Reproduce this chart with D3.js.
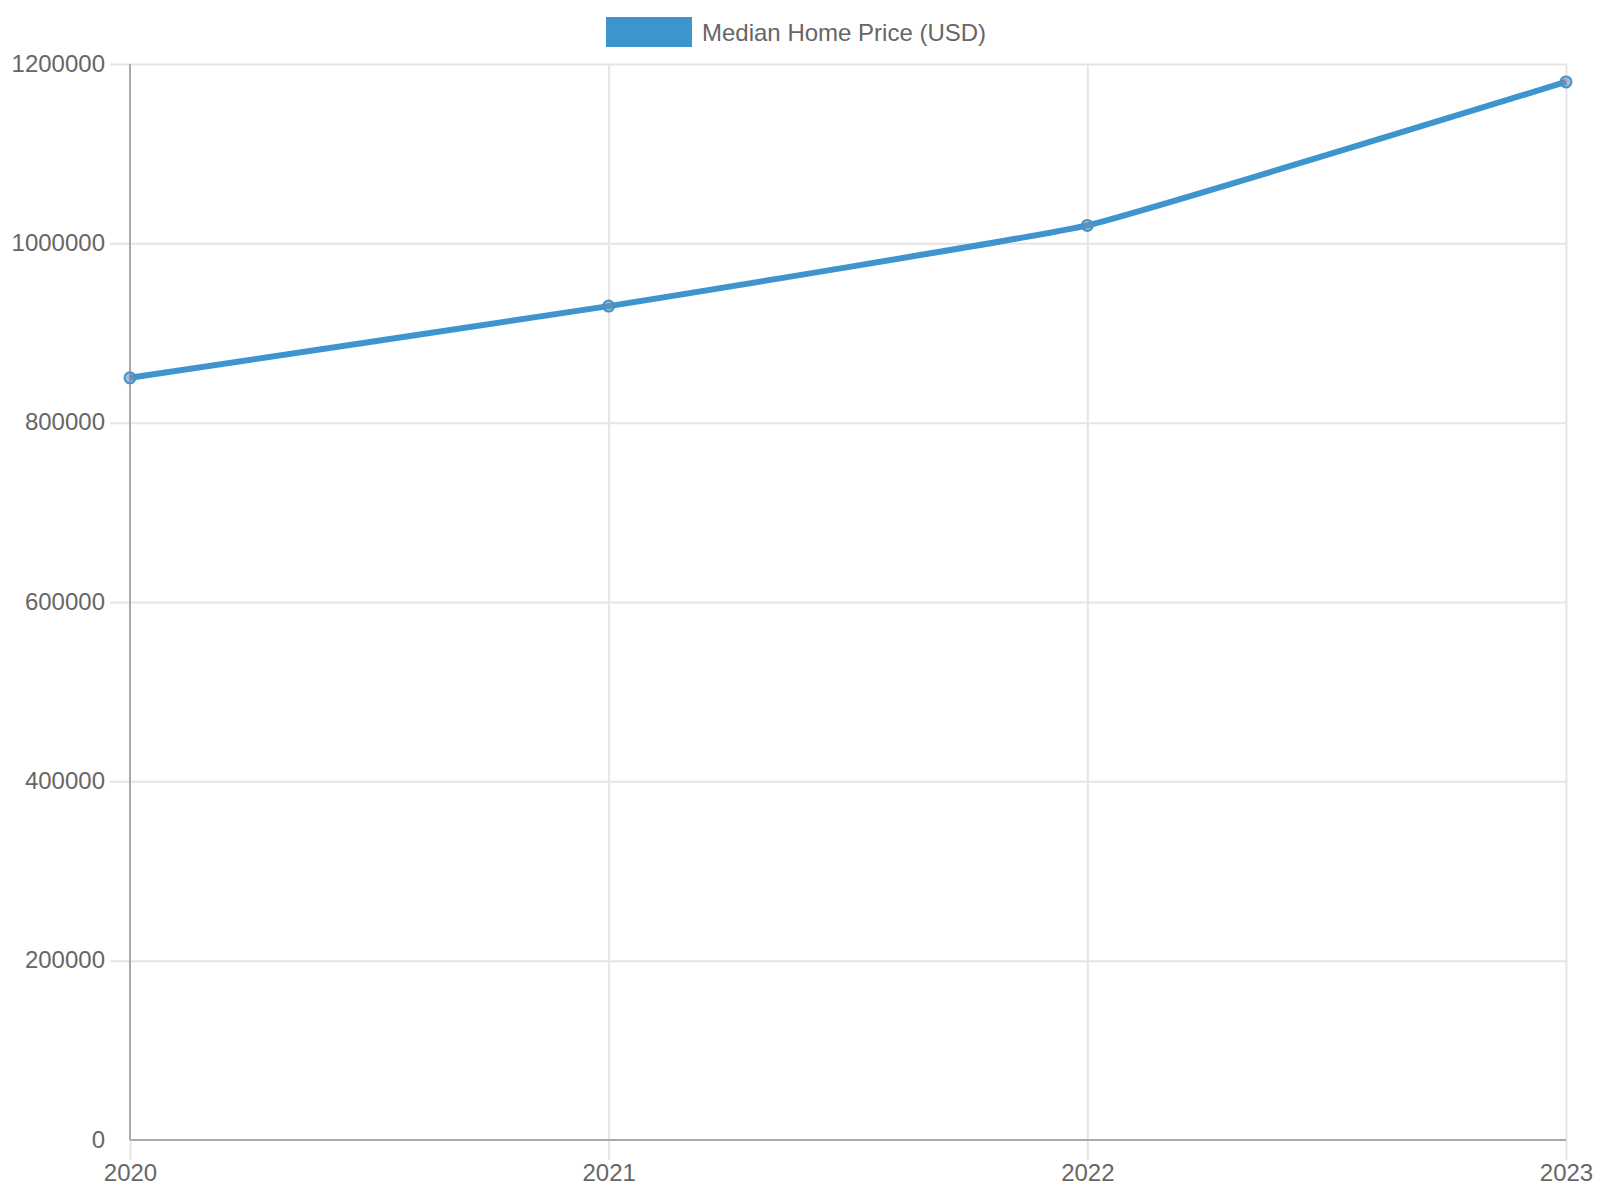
<!DOCTYPE html>
<html>
<head>
<meta charset="utf-8">
<script src="https://cdn.jsdelivr.net/npm/d3@7"></script>
<style>
  body { margin: 0; background: #fff; }
  text { font-family: "Liberation Sans", Arial, sans-serif; fill: #666; }
</style>
</head>
<body>
<div id="chart"></div>
<script>
// data
var years = ["2020", "2021", "2022", "2023"];
var prices = [850000, 930000, 1020000, 1180000];
var yTicks = [0, 200000, 400000, 600000, 800000, 1000000, 1200000];
var seriesName = "Median Home Price (USD)";

var width = 1600, height = 1200;
var margin = {top: 64, right: 34, bottom: 60, left: 130};
var lineColor = "#3e95cd";

var svg = d3.select("#chart")
  .append("svg")
    .attr("width", width)
    .attr("height", height);

var plotW = width - margin.left - margin.right,
    plotH = height - margin.top - margin.bottom;

var g = svg.append("g")
  .attr("transform", "translate(" + margin.left + "," + margin.top + ")");

var x = d3.scalePoint()
  .domain(years)
  .range([0, plotW]);

var y = d3.scaleLinear()
  .domain([0, 1200000])
  .range([plotH, 0]);

// horizontal grid + y ticks
var yAxis = g.append("g")
  .call(d3.axisLeft(y).tickValues(yTicks).tickSize(20).tickPadding(2).tickFormat(d3.format("d")));
yAxis.select(".domain").remove();
yAxis.selectAll(".tick line")
  .attr("x2", function(d) { return d === 0 ? -20 : plotW; })
  .attr("x1", -20)
  .attr("stroke", "#e5e5e5")
  .attr("stroke-width", 2);
yAxis.selectAll(".tick text")
  .attr("x", -25)
  .attr("dy", "0.3em")
  .style("font-size", "24px")
  .style("font-family", "Liberation Sans, Arial, sans-serif")
  .attr("fill", "#666");

// vertical grid + x ticks
var xAxis = g.append("g")
  .attr("transform", "translate(0," + plotH + ")")
  .call(d3.axisBottom(x).tickSize(20).tickPadding(4));
xAxis.select(".domain").remove();
xAxis.selectAll(".tick line")
  .attr("y1", function(d, i) { return i === 0 ? 0 : -plotH; })
  .attr("y2", 20)
  .attr("stroke", "#e5e5e5")
  .attr("stroke-width", 2);
xAxis.selectAll(".tick text")
  .style("font-size", "24px")
  .style("font-family", "Liberation Sans, Arial, sans-serif")
  .attr("fill", "#666");

// axis lines
g.append("line")
  .attr("x1", 0).attr("x2", 0)
  .attr("y1", 0).attr("y2", plotH)
  .attr("stroke", "#aaa")
  .attr("stroke-width", 2);
g.append("line")
  .attr("x1", 0).attr("x2", plotW)
  .attr("y1", plotH).attr("y2", plotH)
  .attr("stroke", "#aaa")
  .attr("stroke-width", 2);

// the line, slight smoothing like a low tension spline
var line = d3.line()
  .x(function(d, i) { return x(years[i]); })
  .y(function(d) { return y(d); })
  .curve(d3.curveCardinal.tension(0.7));

g.append("path")
  .datum(prices)
  .attr("d", line)
  .attr("fill", "none")
  .attr("stroke", lineColor)
  .attr("stroke-width", 6)
  .attr("stroke-linejoin", "round");

g.selectAll(".pt")
  .data(prices)
  .enter()
  .append("circle")
  .attr("class", "pt")
  .attr("cx", function(d, i) { return x(years[i]); })
  .attr("cy", function(d) { return y(d); })
  .attr("r", 5.5)
  .attr("fill", "rgba(120,140,170,0.6)")
  .attr("stroke", lineColor)
  .attr("stroke-width", 2);

// legend
var legend = svg.append("g").attr("transform", "translate(606,17)");
legend.append("rect")
  .attr("width", 86)
  .attr("height", 30)
  .attr("fill", lineColor);
legend.append("text")
  .attr("x", 96)
  .attr("y", 24)
  .style("font-size", "24px")
  .text(seriesName);
</script>
</body>
</html>
